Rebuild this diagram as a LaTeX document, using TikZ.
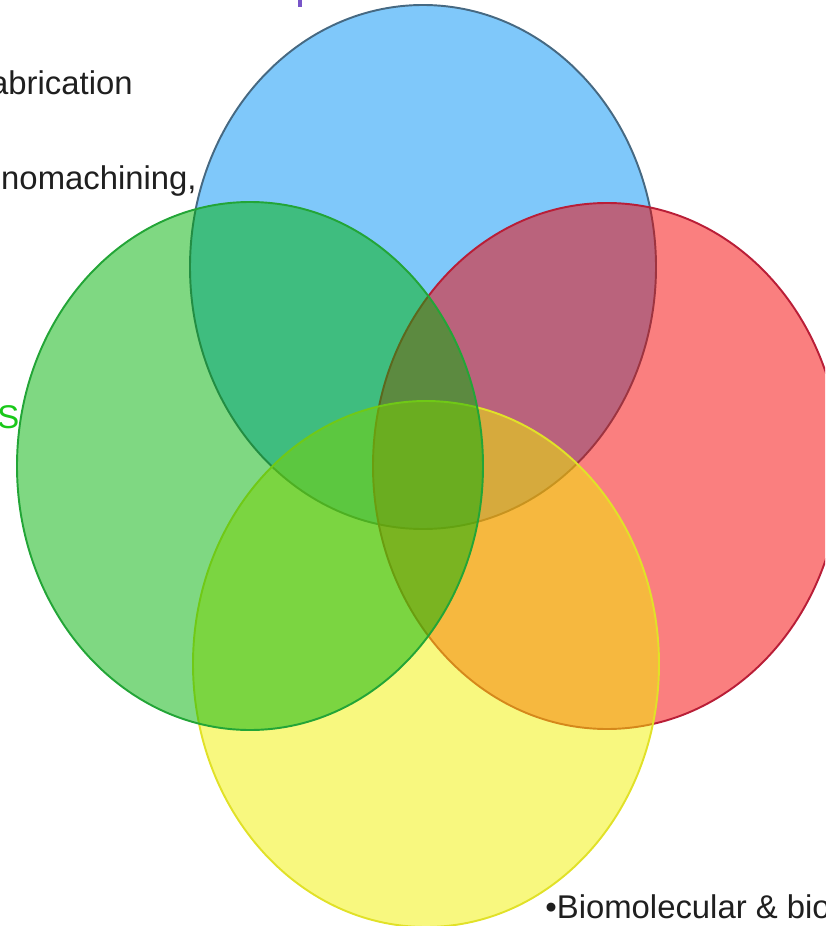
\documentclass[tikz,border=0pt]{standalone}
\usepackage{fontspec}
\setmainfont{Liberation Sans}
\definecolor{bluefill}{RGB}{0,145,245}
\definecolor{blueline}{RGB}{70,105,130}
\definecolor{redfill}{RGB}{245,0,0}
\definecolor{redline}{RGB}{185,30,55}
\definecolor{yellowfill}{RGB}{242,242,0}
\definecolor{yellowline}{RGB}{225,225,40}
\definecolor{greenfill}{RGB}{0,178,5}
\definecolor{greenline}{RGB}{35,165,55}
\definecolor{titlegreen}{RGB}{25,200,25}
\definecolor{tickpurple}{RGB}{120,85,200}
\begin{document}
\begin{tikzpicture}[x=0.02cm,y=-0.02cm,
    petal/.style={line width=1.1pt,fill opacity=0.5},
    label/.style={inner sep=0pt,text=black!88,font=\fontsize{18.7}{21}\selectfont}]
  \clip (0,0) rectangle (825,926);
  % four sets
  \draw [petal,draw=blueline,fill=bluefill] (423,267) ellipse [x radius=233,y radius=262];
  \draw [petal,draw=redline,fill=redfill] (607,466) ellipse [x radius=234,y radius=263];
  \draw [petal,draw=yellowline,fill=yellowfill] (426,664) ellipse [x radius=233,y radius=263];
  \draw [petal,draw=greenline,fill=greenfill] (250,466) ellipse [x radius=233,y radius=264];
  % cut-off labels
  \node [label,anchor=base east] (fab) at (133,94) {abrication};
  \node [label,anchor=base east] (nano) at (197,189) {nomachining,};
  \node [label,anchor=base west,text=titlegreen] (title) at (-3,428) {S};
  \node [label,anchor=base west] (bio) at (545,918) {•Biomolecular \& bio};
  \draw [tickpurple,line width=2pt] (300,-1) -- (300,7);
\end{tikzpicture}
\end{document}
